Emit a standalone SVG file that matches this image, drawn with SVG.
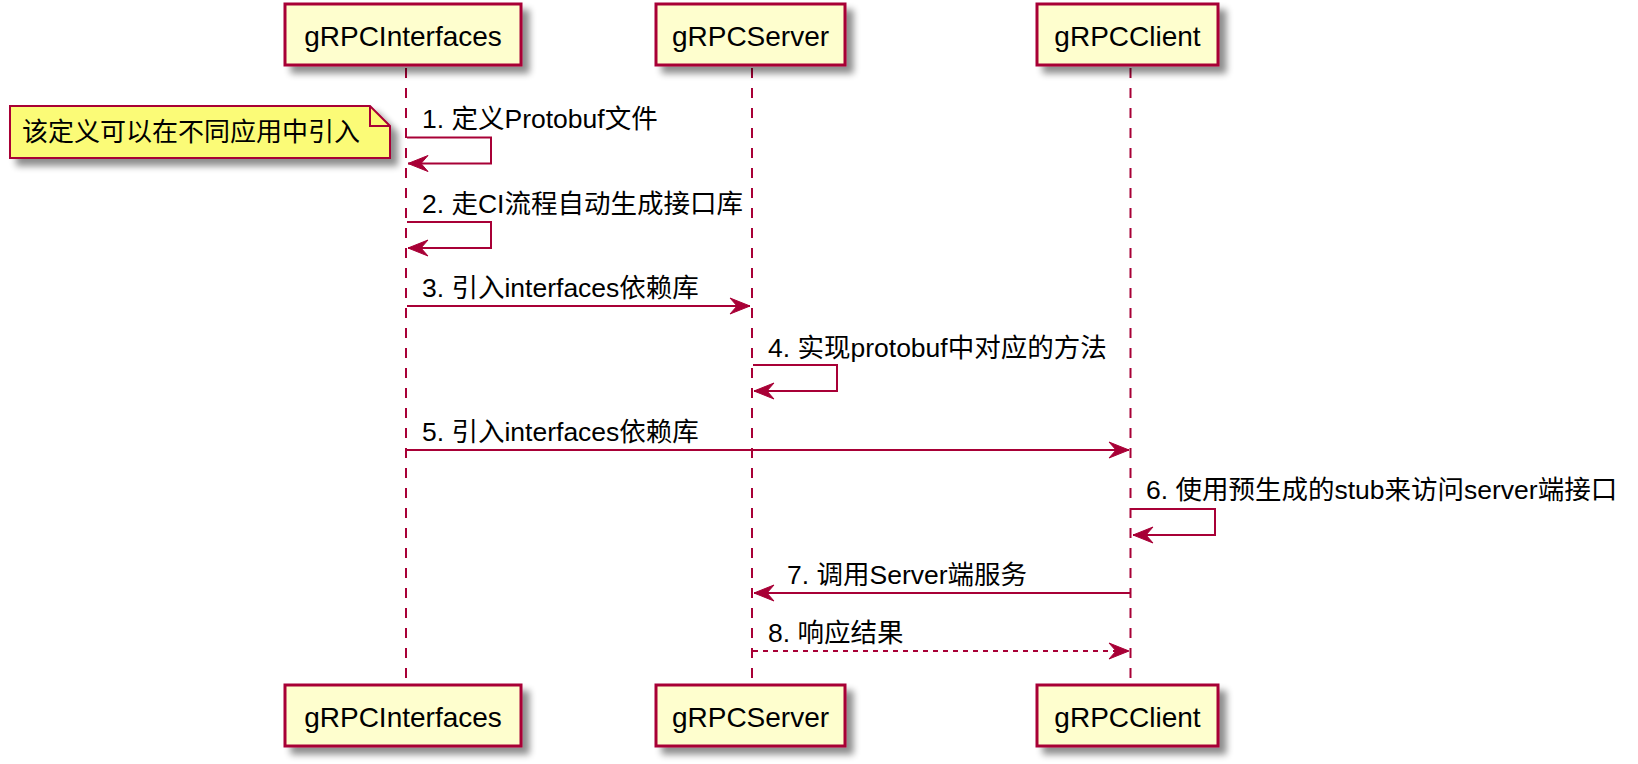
<svg xmlns="http://www.w3.org/2000/svg" width="1638" height="764" viewBox="0 0 1638 764">
<style>
.box{fill:#FEFECE;stroke:#A80036;stroke-width:3;filter:url(#sh)}
.note{fill:#FBFB77;stroke:#A80036;stroke-width:2;filter:url(#sh)}
.fold{fill:none;stroke:#A80036;stroke-width:2}
.life{stroke:#A80036;stroke-width:2;stroke-dasharray:10,10;fill:none}
.msg{stroke:#A80036;stroke-width:2;fill:none;marker-end:url(#ah)}
.dash{stroke-dasharray:5,5}
.pt{font-family:"Liberation Sans","Noto Sans CJK SC",sans-serif;font-size:28px;fill:#000;text-anchor:middle}
.lb{font-family:"Liberation Sans","Noto Sans CJK SC",sans-serif;font-size:26.5px;fill:#000}
.nt{font-family:"Liberation Sans","Noto Sans CJK SC",sans-serif;font-size:26px;fill:#000}
</style>
<defs>
<filter id="sh" x="-10%" y="-20%" width="130%" height="160%">
<feGaussianBlur in="SourceAlpha" stdDeviation="3.5"/>
<feOffset dx="7" dy="7" result="b"/>
<feComponentTransfer><feFuncA type="linear" slope="0.45"/></feComponentTransfer>
<feMerge><feMergeNode/><feMergeNode in="SourceGraphic"/></feMerge>
</filter>
<marker id="ah" markerUnits="userSpaceOnUse" viewBox="-21 -9 22 18" markerWidth="22" markerHeight="18" refX="0" refY="0" orient="auto">
<path d="M0,0 L-20,-8 L-13,0 L-20,8 Z" fill="#A80036" stroke="#A80036" stroke-width="1"/>
</marker>
</defs>
<g id="lifelines">
<line class="life" x1="406" y1="68" x2="406" y2="685"/>
<line class="life" x1="752" y1="68" x2="752" y2="685"/>
<line class="life" x1="1130.5" y1="68" x2="1130.5" y2="685"/>
</g>
<g id="connectors">
<path class="msg" d="M407,137.5 H491 V163.5 H408"/>
<path class="msg" d="M407,222 H491 V248 H408"/>
<path class="msg" d="M407,306 H750"/>
<path class="msg" d="M753,365 H837 V391 H754"/>
<path class="msg" d="M407,450 H1129"/>
<path class="msg" d="M1131,509 H1215 V535 H1133"/>
<path class="msg" d="M1130,593 H754"/>
<path class="msg dash" d="M753,651 H1129"/>
</g>
<g id="labels">
<text class="lb" x="422" y="128">1. 定义Protobuf文件</text>
<text class="lb" x="422" y="213">2. 走CI流程自动生成接口库</text>
<text class="lb" x="422" y="297">3. 引入interfaces依赖库</text>
<text class="lb" x="768" y="356.5">4. 实现protobuf中对应的方法</text>
<text class="lb" x="422" y="441">5. 引入interfaces依赖库</text>
<text class="lb" x="1146" y="499">6. 使用预生成的stub来访问server端接口</text>
<text class="lb" x="787" y="584">7. 调用Server端服务</text>
<text class="lb" x="768" y="642">8. 响应结果</text>
</g>
<g id="note">
<path class="note" d="M10,106 H370 L390,126 V158 H10 Z"/>
<path class="fold" d="M370,106 V126 H390"/>
<text class="nt" x="22" y="141">该定义可以在不同应用中引入</text>
</g>
<g id="p-interfaces-top">
<rect class="box" x="285" y="4" width="236" height="61"/>
<text class="pt" x="403" y="46">gRPCInterfaces</text>
</g>
<g id="p-server-top">
<rect class="box" x="656" y="4" width="189" height="61"/>
<text class="pt" x="750.5" y="46">gRPCServer</text>
</g>
<g id="p-client-top">
<rect class="box" x="1037" y="4" width="181" height="61"/>
<text class="pt" x="1127.5" y="46">gRPCClient</text>
</g>
<g id="p-interfaces-bottom">
<rect class="box" x="285" y="685" width="236" height="61"/>
<text class="pt" x="403" y="727">gRPCInterfaces</text>
</g>
<g id="p-server-bottom">
<rect class="box" x="656" y="685" width="189" height="61"/>
<text class="pt" x="750.5" y="727">gRPCServer</text>
</g>
<g id="p-client-bottom">
<rect class="box" x="1037" y="685" width="181" height="61"/>
<text class="pt" x="1127.5" y="727">gRPCClient</text>
</g>
</svg>
